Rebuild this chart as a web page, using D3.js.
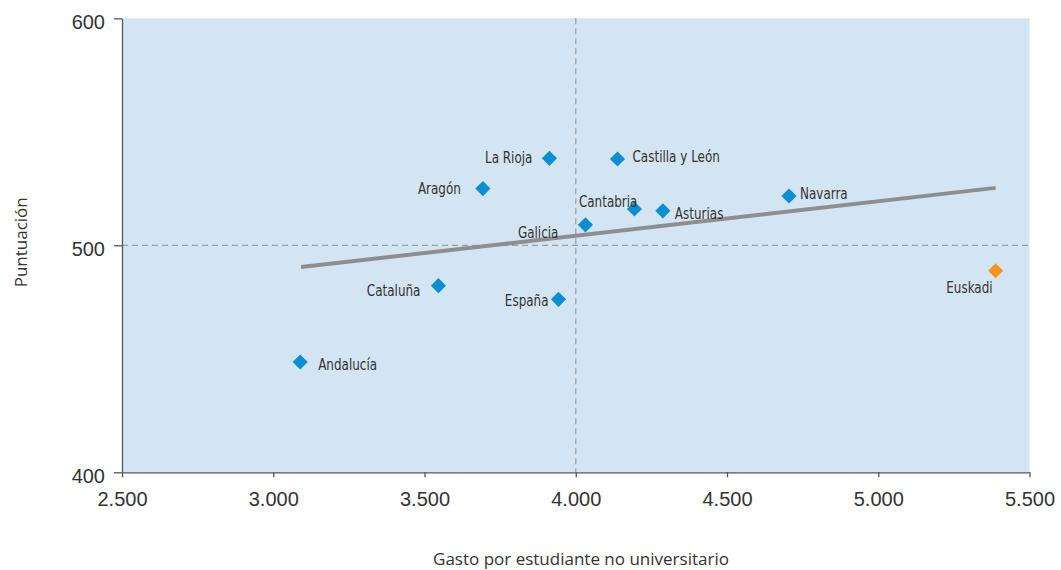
<!DOCTYPE html>
<html><head><meta charset="utf-8">
<script src="https://cdn.jsdelivr.net/npm/d3@7"></script>
<style>
body{margin:0;background:#fff;}
svg{display:block;}
</style></head>
<body>
<svg id="chart" width="1061" height="570"></svg>
<script>
// ---- data ----
const regions = ["La Rioja","Castilla y León","Aragón","Cantabria","Asturias","Galicia","Cataluña","España","Andalucía","Navarra","Euskadi"];
const gasto = [3913, 4138, 3693, 4194, 4288, 4032, 3546, 3943, 3089, 4705, 5388];
const puntuacion = [538.3, 538, 525, 516, 515.2, 509, 482.2, 476.2, 448.6, 521.7, 488.8];
const highlight = ["Euskadi"];
const trendX = [3092, 5388];
const trendY = [490.4, 525.3];
const xTicks = [2500, 3000, 3500, 4000, 4500, 5000, 5500];
const yTicks = [400, 500, 600];
const refX = 4000, refY = 500;

// label offsets (layout only)
const labelPos = {
  "La Rioja":[-17,5,"end"], "Castilla y León":[15,3,"start"], "Aragón":[-22,5,"end"],
  "Cantabria":[3,-2,"end"], "Asturias":[12,8,"start"], "Galicia":[-27,13,"end"],
  "Cataluña":[-18,10,"end"], "España":[-10,7,"end"], "Andalucía":[18,8,"start"],
  "Navarra":[11,3,"start"], "Euskadi":[-3,22,"end"]
};

const svg = d3.select("#chart");
const m = {left:122, right:1029.5, top:18.3, bottom:472.3};
const x = d3.scaleLinear().domain([2500,5500]).range([m.left, m.right]);
const y = d3.scaleLinear().domain([400,600]).range([m.bottom, m.top]);
const fmt = d => d3.format(",")(d).replace(/,/g,".");

svg.append("rect").attr("x",m.left).attr("y",m.top)
  .attr("width",m.right-m.left).attr("height",m.bottom-m.top).attr("fill","#d3e5f2");

// reference dashed lines
svg.append("line").attr("x1",x(refX)).attr("x2",x(refX)).attr("y1",m.top).attr("y2",m.bottom)
  .attr("stroke","#9a9fa4").attr("stroke-width",1.2).attr("stroke-dasharray","6,4");
svg.append("line").attr("x1",m.left).attr("x2",m.right).attr("y1",y(refY)).attr("y2",y(refY))
  .attr("stroke","#9a9fa4").attr("stroke-width",1.2).attr("stroke-dasharray","6,4");

// trend
svg.append("line").attr("x1",x(trendX[0])).attr("y1",y(trendY[0]))
  .attr("x2",x(trendX[1])).attr("y2",y(trendY[1]))
  .attr("stroke","#8e8e90").attr("stroke-width",4);

// axes
const xAxis = d3.axisBottom(x).tickValues(xTicks).tickFormat(fmt).tickSize(5).tickSizeOuter(0);
const gx = svg.append("g").attr("transform",`translate(0,${m.bottom})`).call(xAxis);
const yAxis = d3.axisLeft(y).tickValues(yTicks).tickSize(8).tickSizeOuter(0);
const gy = svg.append("g").attr("transform",`translate(${m.left},0)`).call(yAxis);
[gx,gy].forEach(g=>{
  g.select(".domain").attr("stroke","#555").attr("stroke-width",1.3);
  g.selectAll(".tick line").attr("stroke","#555").attr("stroke-width",1.3);
  g.selectAll(".tick text").attr("fill","#333").style("font-family","'Liberation Sans', Arial, sans-serif").style("font-size","20px");
});
gx.selectAll(".tick text").attr("dy","0").attr("y",34);
gy.selectAll(".tick text").attr("x",-17).attr("dy","0").attr("y",10);

// points
const data = regions.map((r,i)=>({r, gx:gasto[i], p:puntuacion[i]}));
svg.append("g").selectAll("path").data(data).join("path")
  .attr("d", d3.symbol().type(d3.symbolSquare).size(115))
  .attr("transform", d=>`translate(${x(d.gx)},${y(d.p)}) rotate(45)`)
  .attr("fill", d=> highlight.includes(d.r) ? "#f7941d" : "#0a8fd0");

svg.append("g").selectAll("text").data(data).join("text")
  .attr("transform", d=>`translate(${x(d.gx)+labelPos[d.r][0]},${y(d.p)+labelPos[d.r][1]}) scale(0.86,1)`)
  .attr("text-anchor", d=>labelPos[d.r][2])
  .attr("fill","#333")
  .style("font-family","'DejaVu Sans Condensed','DejaVu Sans',sans-serif")
  .style("font-size","15.5px")
  .text(d=>d.r);

// axis titles
svg.append("text").attr("x",581).attr("y",565).attr("text-anchor","middle")
  .attr("fill","#333").style("font-family","'Open Sans', sans-serif").style("font-size","17px")
  .text("Gasto por estudiante no universitario");
svg.append("text").attr("transform",`translate(27,${(m.top+m.bottom)/2 - 3}) rotate(-90)`).attr("text-anchor","middle")
  .attr("fill","#333").style("font-family","'Open Sans', sans-serif").style("font-size","17px")
  .text("Puntuación");
</script>
</body></html>
